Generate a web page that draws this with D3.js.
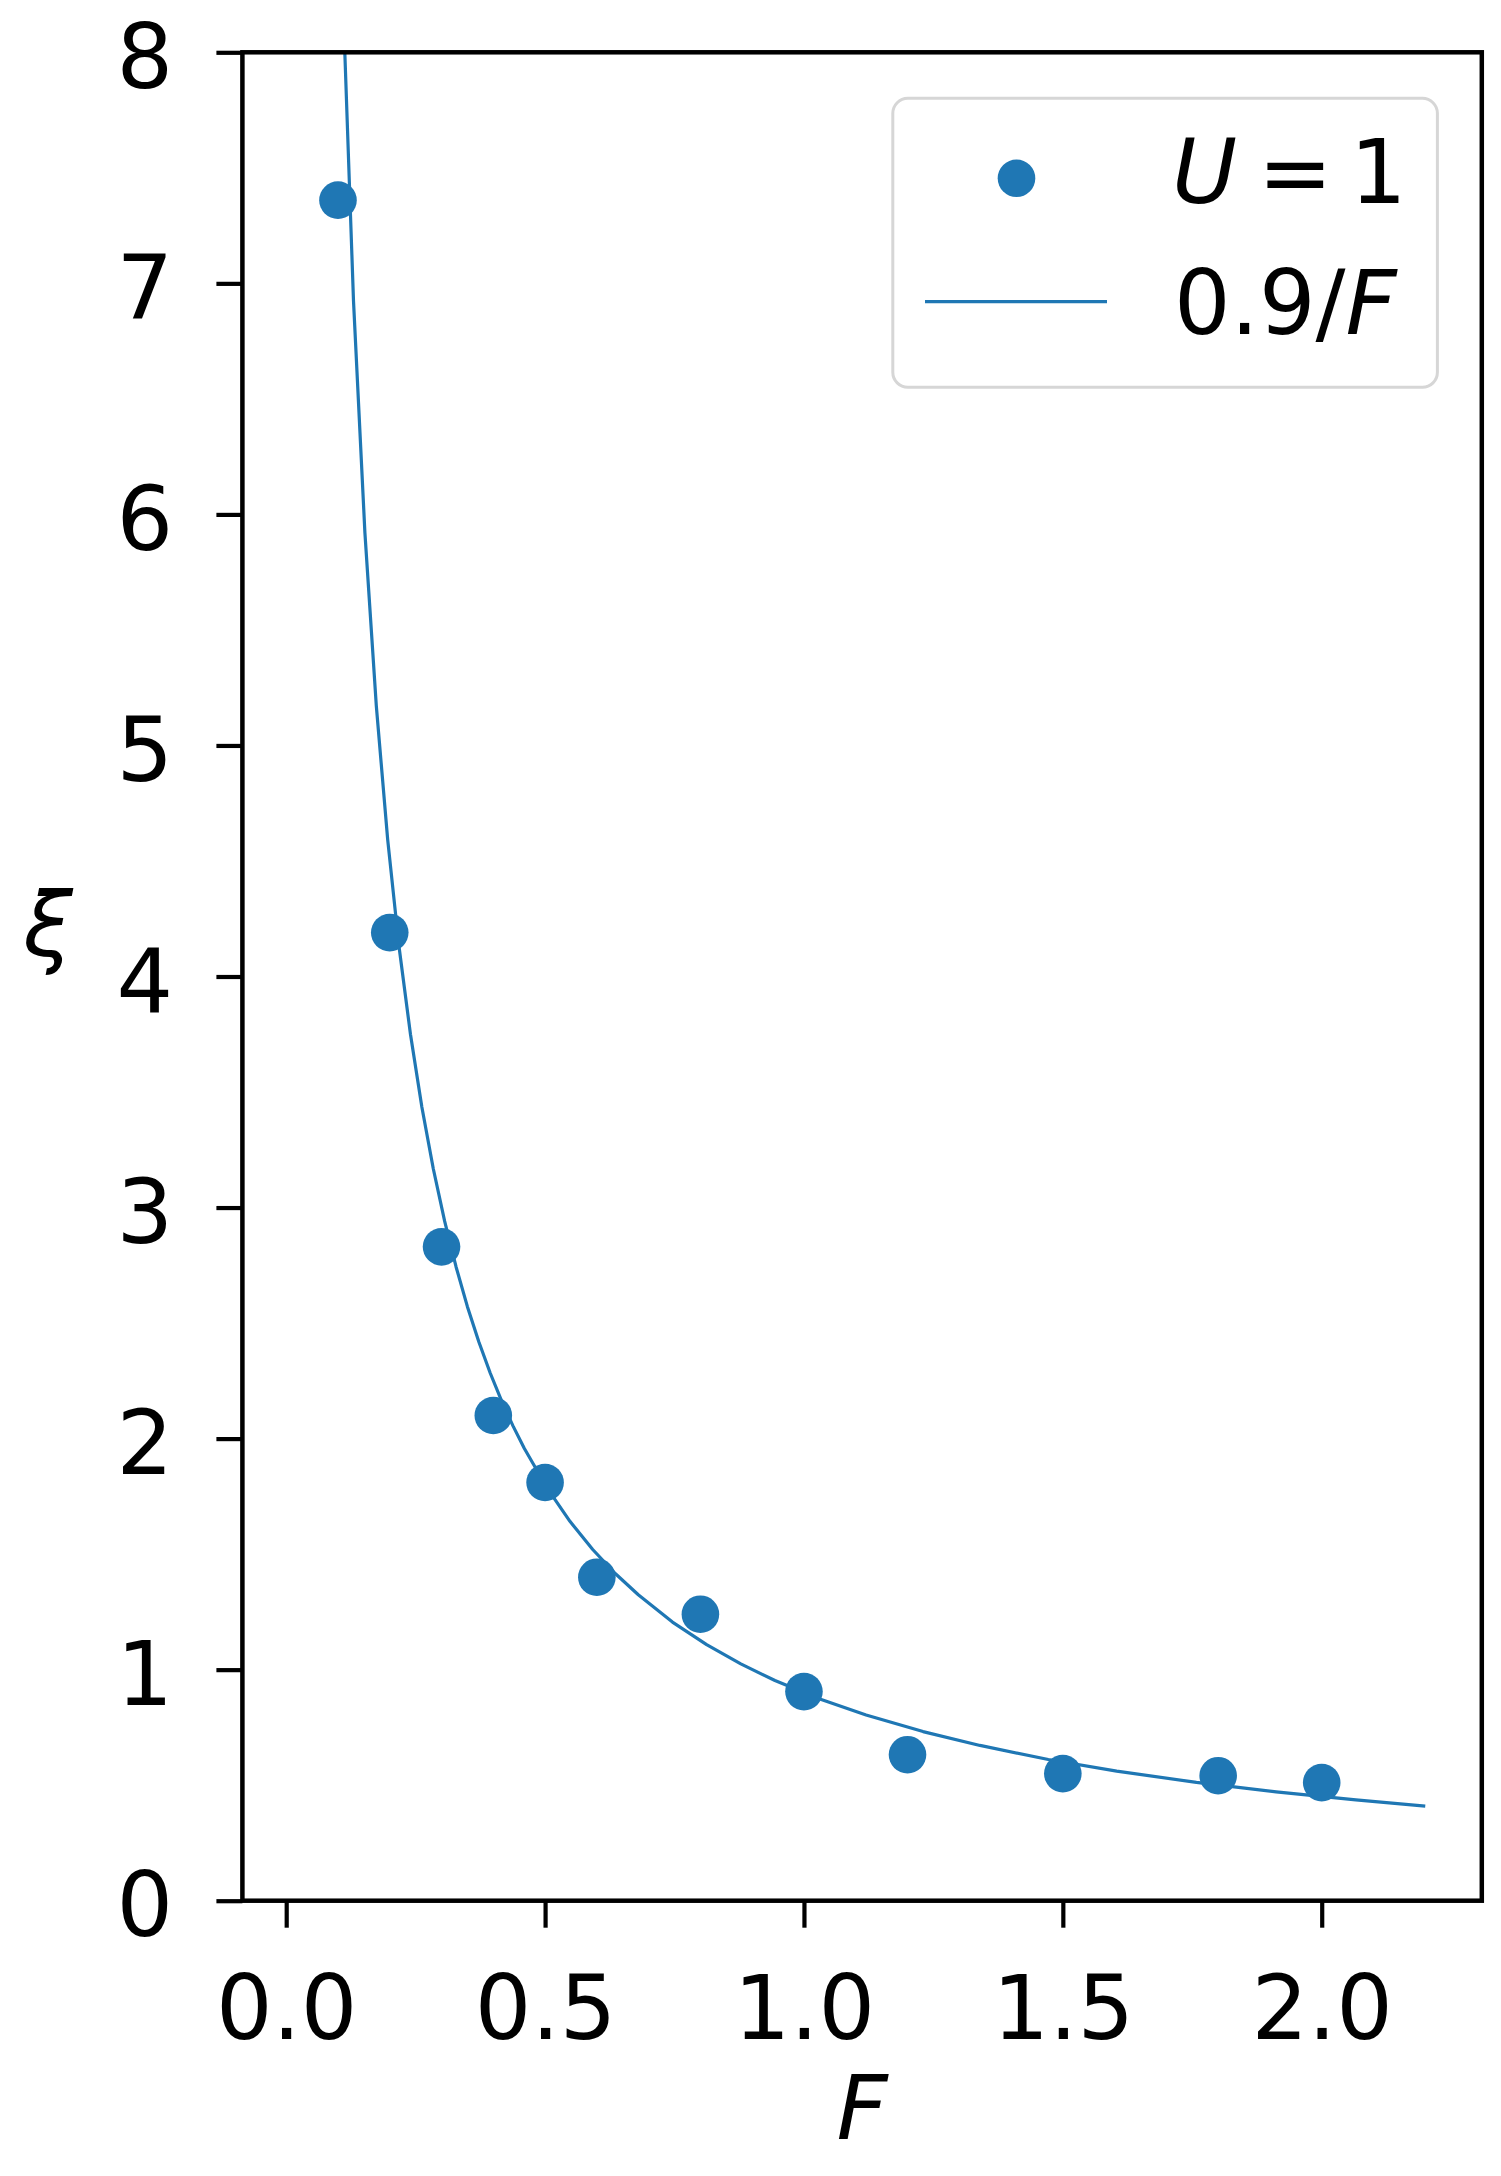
<!DOCTYPE html>
<html>
<head>
<meta charset="utf-8">
<script src="https://cdn.jsdelivr.net/npm/d3@7"></script>
<style>
  html, body { margin: 0; padding: 0; background: #fff; }
  svg { display: block; }
  text { font-family: "DejaVu Sans", sans-serif; fill: #000; }
</style>
</head>
<body>
<svg id="chart" width="1501" height="2176"></svg>
<script>
// measured points, U = 1
var pointF  = [0.1, 0.2, 0.3, 0.4, 0.5, 0.6, 0.8, 1.0, 1.2, 1.5, 1.8, 2.0];
var pointXi = [7.36, 4.19, 2.83, 2.10, 1.81, 1.40, 1.24, 0.905, 0.632, 0.55, 0.541, 0.511];

// fit curve 0.9/F, sampled points
var fitF  = [0.108, 0.130, 0.152, 0.174, 0.196, 0.218, 0.240, 0.262, 0.284, 0.306, 0.328, 0.350,
             0.372, 0.394, 0.416, 0.438, 0.460, 0.504, 0.548, 0.592, 0.636, 0.680, 0.746, 0.812,
             0.878, 0.944, 1.032, 1.120, 1.230, 1.340, 1.472, 1.604, 1.758, 1.912, 2.066, 2.200];
var fitXi = [8.333, 6.923, 5.921, 5.172, 4.592, 4.128, 3.750, 3.435, 3.169, 2.941, 2.744, 2.571,
             2.419, 2.284, 2.163, 2.055, 1.957, 1.786, 1.642, 1.520, 1.415, 1.324, 1.206, 1.108,
             1.025, 0.953, 0.872, 0.804, 0.732, 0.672, 0.611, 0.561, 0.512, 0.471, 0.436, 0.409];

var xTicks = [0.0, 0.5, 1.0, 1.5, 2.0];
var yTicks = [0, 1, 2, 3, 4, 5, 6, 7, 8];
var legendLabels = ["U = 1", "0.9/F"];

var blue = "#1f77b4";
var fontSize = 89;

// axes box (px)
var axLeft = 242.4, axRight = 1481.8, axTop = 52.3, axBottom = 1900.7;

var svg = d3.select("#chart");
svg.append("rect").attr("width", 1501).attr("height", 2176).attr("fill", "#fff");

var x = d3.scaleLinear().domain([-0.0846, 2.3092]).range([axLeft, axRight]);
var y = d3.scaleLinear().domain([0, 8]).range([axBottom, axTop]);

// clip to the axes box
svg.append("clipPath").attr("id", "plotclip")
   .append("rect")
   .attr("x", axLeft).attr("y", axTop)
   .attr("width", axRight - axLeft).attr("height", axBottom - axTop);

var plot = svg.append("g").attr("clip-path", "url(#plotclip)");

var line = d3.line()
             .x(function(d) { return x(d[0]); })
             .y(function(d) { return y(d[1]); });

plot.append("path")
    .datum(d3.zip(fitF, fitXi))
    .attr("d", line)
    .attr("fill", "none")
    .attr("stroke", blue)
    .attr("stroke-width", 3.2)
    .attr("stroke-linejoin", "round");

svg.append("g").selectAll("circle")
   .data(d3.zip(pointF, pointXi))
   .enter().append("circle")
   .attr("cx", function(d) { return x(d[0]); })
   .attr("cy", function(d) { return y(d[1]); })
   .attr("r", 18.8)
   .attr("fill", blue);

// axes
var xAxis = d3.axisBottom(x).tickValues(xTicks).tickFormat(d3.format(".1f"))
              .tickSize(27).tickPadding(48);
var yAxis = d3.axisLeft(y).tickValues(yTicks).tickFormat(d3.format("d"))
              .tickSize(26).tickPadding(43.4);

var gx = svg.append("g").attr("transform", "translate(0," + axBottom + ")").call(xAxis);
var gy = svg.append("g").attr("transform", "translate(" + axLeft + ",0)").call(yAxis);

[gx, gy].forEach(function(g) {
  g.select(".domain").remove();
  g.selectAll(".tick line").attr("stroke", "#000").attr("stroke-width", 4.2);
  g.selectAll(".tick text")
   .attr("fill", "#000")
   .style("font-family", "'DejaVu Sans', sans-serif")
   .style("font-size", fontSize + "px");
});
gx.selectAll(".tick text").attr("dy", "0.71em");
gy.selectAll(".tick text").attr("dy", "0.393em");

// frame
svg.append("rect")
   .attr("x", axLeft).attr("y", axTop)
   .attr("width", axRight - axLeft).attr("height", axBottom - axTop)
   .attr("fill", "none")
   .attr("stroke", "#000")
   .attr("stroke-width", 4.5);

// axis labels
svg.append("text")
   .attr("x", 862).attr("y", 2139)
   .attr("text-anchor", "middle")
   .style("font-size", fontSize + "px")
   .style("font-style", "italic")
   .text("F");

svg.append("text")
   .attr("x", 48).attr("y", 955.5)
   .attr("text-anchor", "middle")
   .style("font-size", fontSize + "px")
   .style("font-style", "italic")
   .text("ξ");

// legend
var legend = svg.append("g");
legend.append("rect")
      .attr("x", 892.8).attr("y", 98.3)
      .attr("width", 544.6).attr("height", 289)
      .attr("rx", 15).attr("ry", 15)
      .attr("fill", "#fff").attr("fill-opacity", 0.8)
      .attr("stroke", "#d6d6d6").attr("stroke-width", 3);

legend.append("circle")
      .attr("cx", 1016.5).attr("cy", 178.3).attr("r", 18.8)
      .attr("fill", blue);

legend.append("line")
      .attr("x1", 925).attr("x2", 1107)
      .attr("y1", 301.7).attr("y2", 301.7)
      .attr("stroke", blue).attr("stroke-width", 3.2);

var t1 = legend.append("text").attr("y", 202.7).style("font-size", fontSize + "px");
var p1 = legendLabels[0].split(" ");
t1.append("tspan").attr("x", 1172).style("font-style", "italic").text(p1[0]);
t1.append("tspan").attr("x", 1258).text(p1[1]);
t1.append("tspan").attr("x", 1350).text(p1[2]);

var t2 = legend.append("text").attr("x", 1174).attr("y", 334).style("font-size", fontSize + "px");
var p2 = legendLabels[1].split("/");
t2.append("tspan").text(p2[0] + "/");
t2.append("tspan").style("font-style", "italic").text(p2[1]);
</script>
</body>
</html>
